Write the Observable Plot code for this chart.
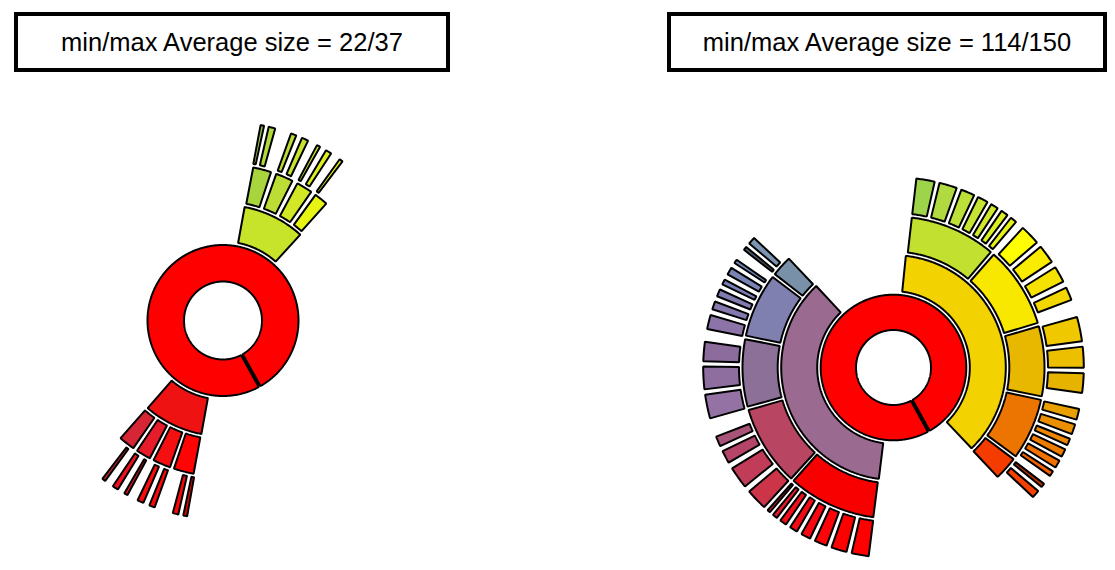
<!DOCTYPE html>
<html><head><meta charset="utf-8">
<script src="https://cdn.jsdelivr.net/npm/d3@7"></script>
<script src="https://cdn.jsdelivr.net/npm/@observablehq/plot@0.6"></script>
<style>
body{margin:0;background:#fff;}
#wrap{position:relative;width:1115px;height:570px;}
.title{position:absolute;top:12px;height:60px;box-sizing:border-box;border:4px solid #000;display:flex;align-items:center;justify-content:center;font:25.5px "Liberation Sans",Arial,sans-serif;color:#000;background:#fff;}
</style></head><body>
<div id="wrap"></div>
<script>
const titles = ["min/max Average size = 22/37", "min/max Average size = 114/150"];

// Left sunburst: depth, start angle, end angle (degrees clockwise from 12 o'clock), fill
const leftDepth = [1, 2, 2, 3, 3, 3, 3, 3, 3, 3, 3, 4, 4, 4, 4, 4, 4, 4, 4, 4, 4, 4, 4, 4, 4];
const leftStart = [151, 10.3, 190.3, 10.8, 19.6, 28.1, 36.0, 190.5, 199.5, 207.6, 214.7,
  10.6, 13.0, 19.7, 23.1, 27.9, 30.9, 35.6, 190.1, 192.7, 199.8, 203.3, 208.4, 211.6, 216.0];
const leftEnd = [511, 42.5, 221.2, 18.3, 26.8, 34.8, 41.8, 198.7, 206.8, 213.8, 221.4,
  12.2, 15.5, 21.9, 25.6, 29.5, 33.2, 37.2, 191.8, 194.9, 202.0, 205.7, 210.0, 213.9, 217.6];
const leftFill = ["#ff0000", "#c8e42a", "#ee1212", "#a8d43e", "#bcdd36", "#d2e826", "#e8f512",
  "#ff0404", "#f41010", "#e61c2a", "#d62535",
  "#98c848", "#b2d83c", "#bcdc36", "#c8e230", "#d0e628", "#dcee1c", "#e4f214",
  "#e80000", "#ff0404", "#ff0808", "#f80c0c", "#e81420", "#f01020", "#d02030"];

// Right sunburst
const rightDepth = [1, 2, 2, 3, 3, 3, 3, 3, 3, 3, 3, 3, 3,
  4, 4, 4, 4, 4, 4, 4,
  4, 4, 4, 4,
  4, 4, 4,
  4, 4, 4, 4, 4, 4,
  4, 4,
  4, 4, 4, 4, 4, 4, 4, 4,
  4, 4, 4, 4,
  4, 4, 4,
  4, 4, 4, 4, 4, 4,
  4, 4];
const rightStart = [151, 5.8, 187, 6.6, 41.2, 73.8, 102.0, 127.0, 187.3, 222.3, 254.6, 281.8, 307.8,
  6.6, 13.7, 20.6, 26.1, 30.6, 34.3, 37.8,
  42.5, 50.3, 57.9, 64.9,
  74.3, 83.4, 91.4,
  102.3, 107.1, 111.7, 115.2, 119.0, 122.8,
  127.4, 130.2,
  187.2, 194.0, 200.3, 205.7, 210.2, 214.1, 217.5, 220.2,
  222.5, 231.0, 239.7, 245.3,
  254.2, 263.1, 271.6,
  281.4, 287.5, 291.7, 295.6, 299.0, 303.0,
  307.9, 310.4];
const rightEnd = [511, 136.5, 317, 40.5, 73.2, 101.4, 126.4, 136.8, 221.8, 254.0, 281.2, 307.2, 316.5,
  12.8, 19.7, 25.4, 29.9, 33.5, 37.1, 40.4,
  49.2, 56.6, 63.5, 69.5,
  82.4, 90.4, 98.0,
  106.2, 110.8, 114.4, 118.2, 122.0, 125.0,
  129.2, 133.2,
  193.0, 199.3, 204.7, 209.2, 213.2, 216.8, 219.6, 221.7,
  229.6, 238.3, 244.2, 249.0,
  262.1, 270.6, 278.1,
  286.3, 290.6, 294.5, 297.8, 301.9, 304.8,
  309.6, 313.2];
const rightFill = ["#ff0000", "#f2d200", "#9a6a90", "#c2e030", "#f8e800", "#e8b800", "#ec7400", "#f43c00",
  "#f80000", "#b84662", "#8c7098", "#8080b0", "#7890a8",
  "#9ed44a", "#b0da40", "#bce038", "#c6e434", "#d0e82c", "#daec22", "#e4f21a",
  "#ffff00", "#faec00", "#f6e200", "#f2d800",
  "#f0c800", "#ecc000", "#e6b400",
  "#e8a000", "#ea9000", "#ec8600", "#ee7c00", "#f07000", "#f26000",
  "#c83000", "#f44000",
  "#ff0000", "#ff0000", "#fc0408", "#f80810", "#f40c14", "#f0101c", "#e81828", "#e02030",
  "#cc3448", "#c03c58", "#b44468", "#a85478",
  "#9472a4", "#8e6e9e", "#8c6c9c",
  "#8c74a8", "#8478ac", "#807cb0", "#7c80b4", "#7884b4", "#7488b4",
  "#506070", "#7c94b4"];

// layout
const W = 1115, H = 570;
const charts = [
  {cx: 222.5, cy: 320, radii: [[38, 76.5], [78, 116.5], [118, 157], [158.5, 200]],
   depth: leftDepth, start: leftStart, end: leftEnd, fill: leftFill, box: [14, 436]},
  {cx: 893, cy: 367, radii: [[36.5, 73.8], [75.3, 113.3], [114.8, 152], [153.5, 191.3]],
   depth: rightDepth, start: rightStart, end: rightEnd, fill: rightFill, box: [667, 440]}
];
const inset = 1.0;
const pts = [];
let id = 0;
for (const c of charts) {
  for (let i = 0; i < c.depth.length; i++) {
    const [r0, r1] = c.radii[c.depth[i] - 1];
    const ri = r0 + inset, ro = r1 - inset;
    const a0 = c.start[i] * Math.PI / 180, a1 = c.end[i] * Math.PI / 180;
    let oa0 = a0 + inset / ro, oa1 = a1 - inset / ro;
    let ia0 = a0 + inset / ri, ia1 = a1 - inset / ri;
    if (oa1 < oa0) { const m = (a0 + a1) / 2; oa0 = oa1 = m; }
    if (ia1 < ia0) { const m = (a0 + a1) / 2; ia0 = ia1 = m; }
    const n = Math.max(2, Math.ceil((c.end[i] - c.start[i]) / 0.5));
    for (let k = 0; k <= n; k++) {
      const t = oa0 + (oa1 - oa0) * k / n;
      pts.push({id, color: c.fill[i], x: c.cx + ro * Math.sin(t), y: c.cy - ro * Math.cos(t)});
    }
    for (let k = n; k >= 0; k--) {
      const t = ia0 + (ia1 - ia0) * k / n;
      pts.push({id, color: c.fill[i], x: c.cx + ri * Math.sin(t), y: c.cy - ri * Math.cos(t)});
    }
    id++;
  }
}

const plot = Plot.plot({
  width: W, height: H,
  marginTop: 0, marginRight: 0, marginBottom: 0, marginLeft: 0,
  x: {domain: [0, W], range: [0, W], axis: null},
  y: {domain: [0, H], range: [0, H], axis: null},
  color: {type: "identity"},
  marks: [
    Plot.line(pts, {x: "x", y: "y", z: "id", fill: "color", stroke: "#000", strokeWidth: 2,
      curve: "linear-closed", strokeLinejoin: "miter"})
  ]
});
const wrap = document.getElementById("wrap");
wrap.appendChild(plot);
charts.forEach((c, i) => {
  const d = document.createElement("div");
  d.className = "title";
  d.style.left = c.box[0] + "px";
  d.style.width = c.box[1] + "px";
  d.textContent = titles[i];
  wrap.appendChild(d);
});
</script>
</body></html>
